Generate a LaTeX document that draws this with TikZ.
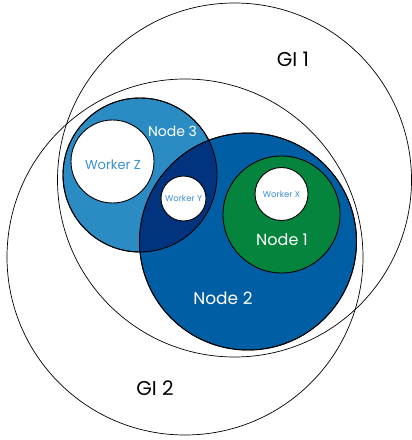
\documentclass[tikz,border=0pt]{standalone}
\usepackage{fontspec}
\setmainfont{Poppins}
\definecolor{lightblue}{HTML}{2B8BC3}
\definecolor{midblue}{HTML}{005EA5}
\definecolor{navyblue}{HTML}{02337E}
\definecolor{nodegreen}{HTML}{04843C}
\definecolor{workertext}{HTML}{3A90D0}
\begin{document}
\begin{tikzpicture}[x=1bp,y=-1bp,
  region/.style={circle,draw=black,line width=0.9bp,inner sep=0pt,outer sep=0pt},
  group/.style={circle,draw=black,line width=0.7bp,inner sep=0pt,outer sep=0pt},
  worker/.style={region,fill=white},
  wlabel/.style={text=workertext},
  nlabel/.style={text=white}]
\useasboundingbox (0,0) rectangle (411,440);
% group circles
\node[group,minimum size=354bp] (gi1) at (234.5,180) {};
\node[group,minimum size=356bp] (gi2) at (185,257) {};
% nodes
\node[region,fill=lightblue,minimum size=154bp] (n3) at (140,175) {};
\node[region,fill=midblue,minimum size=217bp] (n2) at (248,241.5) {};
\begin{scope}
  \clip (140,175) circle (77bp);
  \fill[navyblue] (248,241.5) circle (108.5bp);
\end{scope}
\draw[line width=0.9bp] (140,175) circle (77bp);
\draw[line width=0.9bp] (248,241.5) circle (108.5bp);
\node[region,fill=nodegreen,minimum size=117bp] (n1) at (281.5,214.5) {};
% workers
\node[worker,minimum size=53bp] (wx) at (281.5,194) {};
\node[worker,minimum size=45bp] (wy) at (183.5,198.5) {};
\node[worker,minimum size=83bp] (wz) at (112.5,161.5) {};
% labels
\node[font=\fontsize{20bp}{22bp}\selectfont] (lgi1) at (293,59) {GI 1};
\node[font=\fontsize{20bp}{22bp}\selectfont] (lgi2) at (155,388) {GI 2};
\node[nlabel,font=\fontsize{14bp}{16bp}\selectfont] (ln3) at (172.5,131) {Node 3};
\node[nlabel,font=\fontsize{16bp}{18bp}\selectfont] (ln1) at (282,240) {Node 1};
\node[nlabel,font=\fontsize{17bp}{19bp}\selectfont] (ln2) at (223,298) {Node 2};
\node[wlabel,font=\fontsize{13bp}{15bp}\selectfont] (lwz) at (113,165) {Worker Z};
\node[wlabel,font=\fontsize{8.5bp}{10bp}\selectfont] (lwy) at (183.5,198) {Worker Y};
\node[wlabel,font=\fontsize{8.5bp}{10bp}\selectfont] (lwx) at (281.5,194) {Worker X};
\end{tikzpicture}
\end{document}
